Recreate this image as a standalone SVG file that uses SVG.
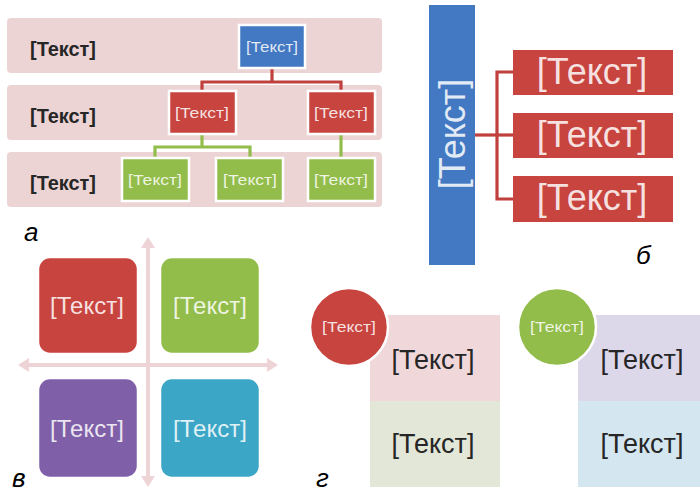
<svg xmlns="http://www.w3.org/2000/svg" width="700" height="496" viewBox="0 0 700 496">
<defs>
<style>
text{font-family:"Liberation Sans",Arial,sans-serif;text-anchor:middle}
.band{fill:#ecd4d4}
.blue{fill:#4279c2}
.red{fill:#c8443f}
.green{fill:#93bd4b}
.purple{fill:#7f60a8}
.aqua{fill:#3ba6c6}
.bord{stroke:#fff;stroke-width:2.5}
.lt{fill:#fff;fill-opacity:.85}
.dk{fill:#262626}
.sm{font-size:15px}
.lab{font-size:26px;font-style:italic;fill:#000;text-anchor:start}
.rc{fill:none;stroke:#c0403d;stroke-width:3.2}
.gc{fill:none;stroke:#93bd4b;stroke-width:3.2}
.ar{fill:none;stroke:#efd4d7;stroke-width:4}
</style>
<marker id="ah" viewBox="0 0 11 14" refX="1" refY="7" markerWidth="11" markerHeight="14" markerUnits="userSpaceOnUse" orient="auto-start-reverse">
<path d="M0,0 L11,7 L0,14 z" fill="#efd4d7"/>
</marker>
</defs>
<rect width="700" height="496" fill="#fff"/>

<g id="bands-a">
<rect class="band" x="7" y="18" width="375" height="55" rx="4"/>
<rect class="band" x="7" y="85" width="375" height="55" rx="4"/>
<rect class="band" x="7" y="152" width="375" height="55" rx="4"/>
<text class="dk" x="63" y="56" font-size="21" font-weight="bold" textLength="66" lengthAdjust="spacingAndGlyphs">[Текст]</text>
<text class="dk" x="63" y="123" font-size="21" font-weight="bold" textLength="66" lengthAdjust="spacingAndGlyphs">[Текст]</text>
<text class="dk" x="63" y="190" font-size="21" font-weight="bold" textLength="66" lengthAdjust="spacingAndGlyphs">[Текст]</text>
</g>

<g id="connectors">
<polyline class="rc" points="272,68 272,82"/>
<polyline class="rc" points="202,92 202,82 341,82 341,92"/>
<polyline class="gc" points="202,134 202,147"/>
<polyline class="gc" points="155,158 155,147 250,147 250,158"/>
<polyline class="gc" points="341,134 341,158"/>
<polyline class="rc" points="475,135 497,135"/>
<polyline class="rc" points="513,72 497,72 497,199 513,199"/>
<polyline class="rc" points="497,135 513,135"/>
<line class="ar" x1="148" y1="247" x2="148" y2="477" marker-start="url(#ah)" marker-end="url(#ah)"/>
<line class="ar" x1="28" y1="365" x2="268" y2="365" marker-start="url(#ah)" marker-end="url(#ah)"/>
</g>

<g id="a-top"><rect class="blue bord" x="239" y="25" width="66" height="43"/><text class="lt sm" x="272" y="52" textLength="52" lengthAdjust="spacingAndGlyphs">[Текст]</text></g>
<g id="a-mid1"><rect class="red bord" x="169" y="91" width="67" height="43"/><text class="lt sm" x="202" y="118" textLength="54" lengthAdjust="spacingAndGlyphs">[Текст]</text></g>
<g id="a-mid2"><rect class="red bord" x="308" y="91" width="67" height="43"/><text class="lt sm" x="341" y="118" textLength="54" lengthAdjust="spacingAndGlyphs">[Текст]</text></g>
<g id="a-bot1"><rect class="green bord" x="122" y="158" width="67" height="43"/><text class="lt sm" x="155" y="185" textLength="54" lengthAdjust="spacingAndGlyphs">[Текст]</text></g>
<g id="a-bot2"><rect class="green bord" x="216" y="158" width="67" height="43"/><text class="lt sm" x="250" y="185" textLength="54" lengthAdjust="spacingAndGlyphs">[Текст]</text></g>
<g id="a-bot3"><rect class="green bord" x="308" y="158" width="67" height="43"/><text class="lt sm" x="341" y="185" textLength="54" lengthAdjust="spacingAndGlyphs">[Текст]</text></g>
<text class="lab" x="24" y="241">а</text>

<g id="b-bar"><rect class="blue" x="429" y="5" width="46" height="260"/><text class="lt" x="0" y="0" font-size="36" transform="translate(465,134) rotate(-90)">[Текст]</text></g>
<g id="b-1"><rect class="red" x="513" y="50" width="160" height="45"/><text class="lt" x="592" y="84" font-size="36">[Текст]</text></g>
<g id="b-2"><rect class="red" x="513" y="113" width="160" height="45"/><text class="lt" x="592" y="147" font-size="36">[Текст]</text></g>
<g id="b-3"><rect class="red" x="513" y="176" width="160" height="46"/><text class="lt" x="592" y="210" font-size="36">[Текст]</text></g>
<text class="lab" x="636" y="264">б</text>

<g id="v-1"><rect class="red bord" x="38" y="257" width="100" height="97" rx="12"/><text class="lt" x="87" y="314" font-size="24">[Текст]</text></g>
<g id="v-2"><rect class="green bord" x="160" y="257" width="100" height="97" rx="12"/><text class="lt" x="210" y="314" font-size="24">[Текст]</text></g>
<g id="v-3"><rect class="purple bord" x="38" y="378" width="100" height="100" rx="12"/><text class="lt" x="87" y="437" font-size="24">[Текст]</text></g>
<g id="v-4"><rect class="aqua bord" x="160" y="378" width="100" height="100" rx="12"/><text class="lt" x="210" y="437" font-size="24">[Текст]</text></g>
<text class="lab" x="12" y="487">в</text>

<g id="g-left">
<rect x="370" y="315" width="130" height="86" fill="#f0d8da"/>
<rect x="370" y="401" width="130" height="86" fill="#e2e7d7"/>
<text class="dk" x="433" y="369" font-size="27">[Текст]</text>
<text class="dk" x="433" y="453" font-size="27">[Текст]</text>
<circle class="red bord" cx="349" cy="327" r="39"/>
<text class="lt" x="349" y="332" font-size="14" textLength="54" lengthAdjust="spacingAndGlyphs">[Текст]</text>
</g>
<g id="g-right">
<rect x="578" y="315" width="122" height="86" fill="#dcd8ea"/>
<rect x="578" y="401" width="122" height="86" fill="#d4e6ef"/>
<text class="dk" x="642" y="369" font-size="27">[Текст]</text>
<text class="dk" x="642" y="453" font-size="27">[Текст]</text>
<circle class="green bord" cx="557" cy="327" r="39"/>
<text class="lt" x="557" y="332" font-size="14" textLength="54" lengthAdjust="spacingAndGlyphs">[Текст]</text>
</g>
<text class="lab" x="316" y="487">г</text>
</svg>
